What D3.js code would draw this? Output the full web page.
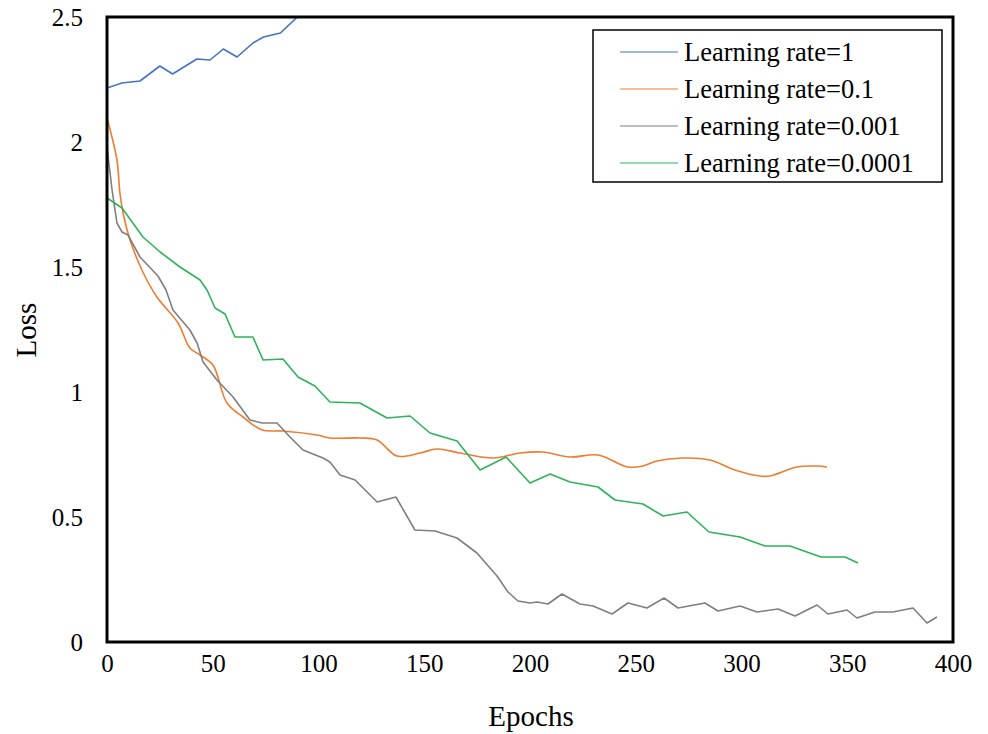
<!DOCTYPE html>
<html>
<head>
<meta charset="utf-8">
<script src="https://cdn.jsdelivr.net/npm/d3@7"></script>
<style>
    body { margin: 0; background: #fff; }
    svg text { font-family: "Liberation Serif", "Times New Roman", serif; fill: #000; }
    .line { fill: none; stroke-width: 1.6px; stroke-linejoin: round; }
</style>
</head>
<body>
<svg id="chart" width="988" height="734"></svg>
<script>
// Epochs + loss per learning rate
const lr1Epochs = [0, 7, 15.6, 25, 31, 42.5, 48.7, 55, 61.5, 69, 74, 82, 90, 100, 110, 120];
const lr1Loss = [2.216, 2.236, 2.244, 2.304, 2.272, 2.332, 2.328, 2.372, 2.34, 2.396, 2.42, 2.436, 2.5, 2.56, 2.51, 2.62];

const lr01Epochs = [0, 4.7, 6.1, 7.6, 10.9, 16.5, 23.6, 33.6, 39.2, 44, 50.1, 56.7, 64.3, 73.3, 83.2, 99.3, 105.4,
    119.6, 127.7, 137.1, 148, 156, 166.9, 182.5, 195.3, 206.1, 218.9, 232.2, 246.3, 253.4, 260, 271.9, 285.1,
    296.9, 308.7, 313.5, 326.2, 335.7, 340.4];
const lr01Loss = [2.096, 1.928, 1.796, 1.716, 1.608, 1.488, 1.38, 1.276, 1.176, 1.148, 1.108, 0.956, 0.9, 0.848, 0.844, 0.828, 0.816,
    0.816, 0.808, 0.744, 0.756, 0.772, 0.756, 0.736, 0.756, 0.76, 0.74, 0.748, 0.7, 0.704, 0.724, 0.736, 0.728,
    0.688, 0.664, 0.664, 0.7, 0.704, 0.7];

const lr0001Epochs = [0, 2.4, 4.7, 7.1, 9.9, 15.6, 24.1, 27.9, 31.2, 39.2, 42.6, 45.4, 52, 59.6, 67.6, 73.3, 80.4,
    86.5, 92.7, 102.1, 105.4, 110.2, 117.3, 127.7, 136.6, 145.6, 155.1, 165.5, 174.9, 184.4, 189.6, 194.3, 200,
    203.3, 208.5, 215.1, 223.6, 229.8, 238.8, 246.3, 255.3, 263.4, 270, 282.7, 288.9, 299.3, 307.3, 317.3, 325.3,
    335.7, 340.9, 349.9, 354.6, 363.1, 371.6, 381.1, 387.7, 392.4];
const lr0001Loss = [1.98, 1.808, 1.676, 1.64, 1.628, 1.54, 1.464, 1.408, 1.328, 1.248, 1.196, 1.12, 1.048, 0.98, 0.888, 0.876, 0.876,
    0.82, 0.768, 0.736, 0.72, 0.668, 0.648, 0.56, 0.58, 0.448, 0.444, 0.416, 0.356, 0.264, 0.2, 0.164, 0.156,
    0.16, 0.152, 0.192, 0.152, 0.144, 0.112, 0.156, 0.136, 0.176, 0.136, 0.156, 0.124, 0.144, 0.12, 0.132, 0.104,
    0.148, 0.112, 0.128, 0.096, 0.12, 0.12, 0.136, 0.076, 0.1];

const lr00001Epochs = [0, 7.1, 17, 25.1, 34.5, 44, 47.3, 51.1, 55.8, 60.5, 69, 73.8, 83.2, 90.3, 98.3, 105.4, 119.6,
    132.4, 143.3, 152.7, 165.5, 176.4, 188.7, 200, 209.5, 218.9, 232.2, 240.2, 253.4, 262.9, 274.2, 284.6, 299.3,
    311.1, 322.9, 337.6, 348.9, 355.1];
const lr00001Loss = [1.776, 1.736, 1.62, 1.56, 1.5, 1.448, 1.408, 1.336, 1.312, 1.22, 1.22, 1.128, 1.132, 1.06, 1.024, 0.96, 0.956,
    0.896, 0.904, 0.836, 0.804, 0.688, 0.74, 0.636, 0.672, 0.64, 0.62, 0.568, 0.552, 0.504, 0.52, 0.44, 0.42,
    0.384, 0.384, 0.34, 0.34, 0.316];

const seriesNames = ["Learning rate=1", "Learning rate=0.1", "Learning rate=0.001", "Learning rate=0.0001"];
const seriesColors = ["#4472C4", "#ED7D31", "#7F7F7F", "#2DB35A"];

const xTicks = [0, 50, 100, 150, 200, 250, 300, 350, 400];
const yTicks = [0, 0.5, 1, 1.5, 2, 2.5];

function zip(xs, ys) {
    return xs.map((x, i) => ({ x, y: ys[i] }));
}

function drawChart() {
    const svg = d3.select("#chart");
    const left = 107, right = 953, top = 17, bottom = 642;

    const x = d3.scaleLinear().domain([0, 400]).range([left, right]);
    const y = d3.scaleLinear().domain([0, 2.5]).range([bottom, top]);

    svg.append("clipPath").attr("id", "plot-clip")
        .append("rect")
        .attr("x", left).attr("y", top)
        .attr("width", right - left).attr("height", bottom - top);

    // Axes: labels only, no tick marks
    const yAxis = svg.append("g")
        .attr("transform", `translate(${left},0)`)
        .call(d3.axisLeft(y).tickValues(yTicks).tickSize(0).tickPadding(24).tickFormat(d3.format("")));
    yAxis.select(".domain").remove();
    yAxis.selectAll("text")
        .style("font-family", "'Liberation Serif', serif")
        .style("font-size", "25px");

    const xAxis = svg.append("g")
        .attr("transform", `translate(0,${bottom})`)
        .call(d3.axisBottom(x).tickValues(xTicks).tickSize(0).tickPadding(12).tickFormat(d3.format("")));
    xAxis.select(".domain").remove();
    xAxis.selectAll("text")
        .style("font-family", "'Liberation Serif', serif")
        .style("font-size", "25px");

    // Lines
    const series = [
        zip(lr1Epochs, lr1Loss),
        zip(lr01Epochs, lr01Loss),
        zip(lr0001Epochs, lr0001Loss),
        zip(lr00001Epochs, lr00001Loss)
    ];

    const straight = d3.line().x(d => x(d.x)).y(d => y(d.y));
    const smooth = d3.line().x(d => x(d.x)).y(d => y(d.y)).curve(d3.curveCatmullRom.alpha(0.5));

    const plot = svg.append("g").attr("clip-path", "url(#plot-clip)");
    series.forEach((data, i) => {
        plot.append("path")
            .attr("class", "line")
            .attr("stroke", seriesColors[i])
            .attr("d", i === 1 ? smooth(data) : straight(data));
    });

    // Plot frame
    svg.append("rect")
        .attr("x", left).attr("y", top)
        .attr("width", right - left).attr("height", bottom - top)
        .attr("fill", "none").attr("stroke", "#000").attr("stroke-width", 3);

    // Axis titles
    svg.append("text")
        .attr("x", 531).attr("y", 726)
        .attr("text-anchor", "middle")
        .style("font-size", "29px")
        .text("Epochs");

    svg.append("text")
        .attr("transform", "translate(36,330) rotate(-90)")
        .attr("text-anchor", "middle")
        .style("font-size", "29px")
        .text("Loss");

    // Legend
    const legend = svg.append("g");
    legend.append("rect")
        .attr("x", 593).attr("y", 30)
        .attr("width", 349).attr("height", 152)
        .attr("fill", "#fff").attr("stroke", "#000").attr("stroke-width", 1.5);

    seriesNames.forEach((name, i) => {
        const rowY = 52 + i * 37;
        legend.append("line")
            .attr("x1", 620).attr("x2", 678)
            .attr("y1", rowY).attr("y2", rowY)
            .attr("stroke", seriesColors[i]).attr("stroke-width", 1.2);
        legend.append("text")
            .attr("x", 684).attr("y", rowY)
            .attr("dy", "0.33em")
            .style("font-size", "26.5px")
            .text(name);
    });
}

drawChart();
</script>
</body>
</html>
